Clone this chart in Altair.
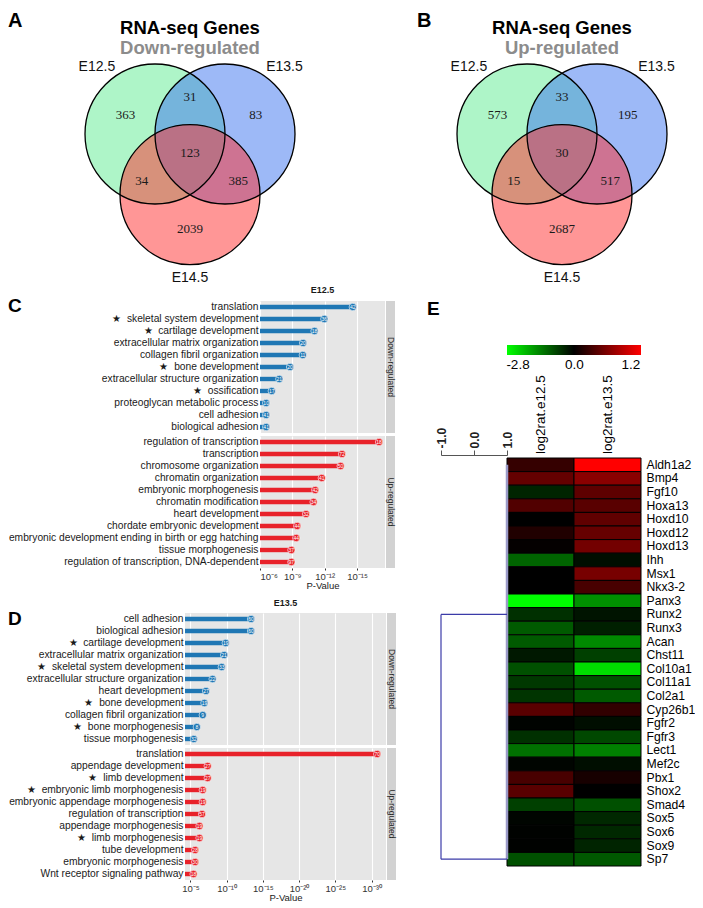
import altair as alt
import pandas as pd

FONT = "Liberation Sans"

# ---------------- Panels A / B : Venn diagrams ----------------
venn_sets = ["E12.5", "E13.5", "E14.5"]
venn_colors = ["#5deb91", "#3b73ef", "#ff2e2e"]
venn_regions = ["E12.5 only", "E12.5&E13.5", "E13.5 only", "all", "E12.5&E14.5", "E13.5&E14.5", "E14.5 only"]
down_counts = [363, 31, 83, 123, 34, 385, 2039]
up_counts = [573, 33, 195, 30, 15, 517, 2687]

# Venn geometry in circle-radius units
circle_cx = [-0.5, 0.5, 0.0]
circle_cy = [0.0, 0.0, -0.866]
region_x = [-0.92, 0.0, 0.94, 0.0, -0.69, 0.69, 0.0]
region_y = [0.27, 0.53, 0.27, -0.27, -0.67, -0.67, -1.35]
setlab_x = [-1.33, 1.35, 0.0]
setlab_y = [0.96, 0.96, -2.06]
title_y = [1.514, 1.229]

# ---------------- Panels C / D : GO enrichment lollipops ----------------
c_down_terms = ["translation", "★\u00a0\u00a0skeletal system development", "★\u00a0\u00a0cartilage development",
                "extracellular matrix organization", "collagen fibril organization", "★\u00a0\u00a0bone development",
                "extracellular structure organization", "★\u00a0\u00a0ossification", "proteoglycan metabolic process",
                "cell adhesion", "biological adhesion"]
c_down_nlp = [14.61, 11.97, 11.06, 10.0, 9.97, 8.79, 7.79, 7.09, 6.57, 6.57, 6.57]
c_down_n = [42, 36, 18, 20, 11, 20, 21, 17, 10, 41, 41]

c_up_terms = ["regulation of transcription", "transcription", "chromosome organization", "chromatin organization",
              "embryonic morphogenesis", "chromatin modification", "heart development",
              "chordate embryonic development", "embryonic development ending in birth or egg hatching",
              "tissue morphogenesis", "regulation of transcription, DNA-dependent"]
c_up_nlp = [17.05, 13.61, 13.48, 11.73, 11.12, 10.97, 10.27, 9.45, 9.36, 8.91, 8.91]
c_up_n = [18, 72, 50, 41, 42, 34, 32, 44, 44, 37, 97]

d_down_terms = ["cell adhesion", "biological adhesion", "★\u00a0\u00a0cartilage development",
                "extracellular matrix organization", "★\u00a0\u00a0skeletal system development",
                "extracellular structure organization", "heart development", "★\u00a0\u00a0bone development",
                "collagen fibril organization", "★\u00a0\u00a0bone morphogenesis", "tissue morphogenesis"]
d_down_nlp = [13.37, 13.37, 9.87, 9.65, 9.32, 8.06, 7.15, 6.93, 6.70, 5.88, 5.47]
d_down_n = [60, 60, 19, 21, 33, 22, 27, 19, 9, 8, 32]

d_up_terms = ["translation", "appendage development", "★\u00a0\u00a0limb development",
              "★\u00a0\u00a0embryonic limb morphogenesis", "embryonic appendage morphogenesis",
              "regulation of transcription", "appendage morphogenesis", "★\u00a0\u00a0limb morphogenesis",
              "tube development", "embryonic morphogenesis", "Wnt receptor signaling pathway"]
d_up_nlp = [30.78, 7.38, 7.38, 6.70, 6.70, 6.60, 6.25, 6.25, 5.65, 5.65, 5.43]
d_up_n = [70, 27, 27, 19, 19, 57, 19, 19, 28, 30, 18]

c_ticks = [6, 9, 12, 15]
d_ticks = [5, 10, 15, 20, 25, 30]
c_domain = [6, 17.6]
d_domain = [4.25, 32.0]

# ---------------- Panel E : heatmap ----------------
genes = ["Aldh1a2", "Bmp4", "Fgf10", "Hoxa13", "Hoxd10", "Hoxd12", "Hoxd13", "Ihh", "Msx1", "Nkx3-2",
         "Panx3", "Runx2", "Runx3", "Acan", "Chst11", "Col10a1", "Col11a1", "Col2a1", "Cyp26b1", "Fgfr2",
         "Fgfr3", "Lect1", "Mef2c", "Pbx1", "Shox2", "Smad4", "Sox5", "Sox6", "Sox9", "Sp7"]
heat_cols = ["log2rat.e12.5", "log2rat.e13.5"]
e12 = [0.25, 0.47, -0.40, 0.38, 0.0, 0.15, 0.02, -1.10, 0.0, 0.0,
       -2.80, -0.53, -0.99, -0.99, -0.26, -0.88, -0.61, -0.57, 0.42, -0.03,
       -0.53, -1.23, -0.05, 0.34, 0.42, -0.70, -0.05, -0.02, -0.02, -0.88]
e13 = [1.20, 0.65, 0.44, 0.42, 0.45, 0.48, 0.54, -0.15, 0.56, 0.34,
       -1.58, -0.22, -0.35, -1.52, -0.70, -2.43, -0.88, -0.99, 0.23, -0.15,
       -0.79, -1.40, -0.15, 0.11, 0.0, -0.88, -0.44, -0.44, -0.40, -0.97]
color_domain = [-2.8, 0.0, 1.2]
color_range = ["#00ff00", "#000000", "#ff0000"]
cbar_labels = ["-2.8", "0.0", "1.2"]
dendro_ticks = [-1.0, 0.0, 1.0]
dendro_tick_labels = ["-1.0", "0.0", "1.0"]
dendro_top = ["Runx2"]
dendro_bottom = ["Sp7"]
dendro_height = [-1.0]

# ======================================================================
PX = 70
VX0, VY1, VH = -2.6, 1.8, 278


def venn(counts, subtitle, letter, width, letter_x):
    xs = alt.Scale(domain=[VX0, VX0 + width / PX], nice=False, zero=False)
    ys = alt.Scale(domain=[VY1 - VH / PX, VY1], nice=False, zero=False)
    circ = pd.DataFrame({"set": venn_sets, "cx": circle_cx, "cy": circle_cy, "k": [0, 1, 2]})
    X = alt.X("cx:Q", scale=xs, axis=None)
    Y = alt.Y("cy:Q", scale=ys, axis=None)
    fills = alt.Chart(circ).mark_circle(size=(2 * PX) ** 2, opacity=0.5).encode(
        x=X, y=Y,
        color=alt.Color("set:N", scale=alt.Scale(domain=venn_sets, range=venn_colors), legend=None),
        order=alt.Order("k:Q"))
    rings = alt.Chart(circ).mark_point(shape="circle", filled=False, size=(2 * PX) ** 2,
                                       color="black", strokeWidth=1.3, opacity=1).encode(x=X, y=Y)
    reg = pd.DataFrame({"region": venn_regions, "n": counts, "x": region_x, "y": region_y})
    nums = alt.Chart(reg).mark_text(font="Liberation Serif", fontSize=13, color="#1a1a1a").encode(
        x=alt.X("x:Q", scale=xs, axis=None), y=alt.Y("y:Q", scale=ys, axis=None), text="n:Q")
    sl = pd.DataFrame({"s": venn_sets, "x": setlab_x, "y": setlab_y})
    setl = alt.Chart(sl).mark_text(fontSize=14, color="#111").encode(
        x=alt.X("x:Q", scale=xs, axis=None), y=alt.Y("y:Q", scale=ys, axis=None), text="s:N")
    tt = pd.DataFrame({"t": ["RNA-seq Genes", subtitle], "x": [0, 0], "y": title_y,
                       "c": ["#000000", "#8c8c8c"]})
    titles = alt.Chart(tt).mark_text(fontSize=18.5, fontWeight="bold").encode(
        x=alt.X("x:Q", scale=xs, axis=None), y=alt.Y("y:Q", scale=ys, axis=None), text="t:N",
        color=alt.Color("c:N", scale=None))
    let = alt.Chart(pd.DataFrame({"t": [letter]})).mark_text(
        fontSize=20, fontWeight="bold", align="left", baseline="middle", color="black").encode(
        x=alt.value(letter_x), y=alt.value(13), text="t:N")
    return alt.layer(fills, rings, nums, setl, titles, let).properties(width=width, height=VH)


SUP = str.maketrans("0123456789-", "⁰¹²³⁴⁵⁶⁷⁸⁹⁻")


def pow_expr(ticks):
    parts = " : ".join(f"datum.value == {k} ? '10{('-' + str(k)).translate(SUP)}'" for k in ticks)
    return parts + " : ''"


ROW = 12.0
LABEL_FS = 10.25


def lolli(terms, vals, counts, color, domain, ticks, width, extent, strip,
          title=None, letter=None, bottom_axis=False):
    """Label area (extent px) is part of the view so that panels line up from the left page edge."""
    h = len(terms) * ROW
    total = extent + width
    df = pd.DataFrame({"term": terms, "v": vals, "n": [str(c) for c in counts]})
    xs = alt.Scale(domain=domain, range=[extent, total], nice=False, zero=False)
    if bottom_axis:
        xax = alt.Axis(values=ticks, labelExpr=pow_expr(ticks), title="P-Value", titleFontSize=9.5,
                       titleFontWeight="normal", titleColor="#1a1a1a", titlePadding=0,
                       titleX=extent + width / 2,
                       labelFontSize=9.5, labelColor="#333333", labelPadding=1, grid=True,
                       gridColor="white", gridWidth=1.1, domain=False, tickSize=2, tickColor="#333333")
    else:
        xax = alt.Axis(values=ticks, labels=False, ticks=False, domain=False, grid=True,
                       gridColor="white", gridWidth=1.1, title=None)
    yax = alt.Axis(title=None, ticks=False, domain=False, labelFontSize=LABEL_FS, labelColor="#1a1a1a",
                   labelPadding=2, labelLimit=0, offset=-extent, zindex=1, grid=False)
    Y = alt.Y("term:N", sort=terms, scale=alt.Scale(domain=terms, paddingInner=0, paddingOuter=0), axis=yax)
    X = alt.X("v:Q", scale=xs, axis=xax)
    base = alt.Chart(df)
    white = alt.Chart(pd.DataFrame({"s": [strip]})).mark_rect(color="white").encode(
        x=alt.value(0), x2=alt.value(extent), y=alt.value(0), y2=alt.value(h))
    bars = base.mark_bar(size=4.4, color=color, clip=True).encode(x=X, x2=alt.datum(domain[0]), y=Y)
    dots = base.mark_circle(size=55, color=color, opacity=1, stroke="white", strokeWidth=0.6).encode(x=X, y=Y)
    nums = base.mark_text(fontSize=5, color="white").encode(x=X, y=Y, text="n:N")
    sdf = pd.DataFrame({"s": [strip]})
    srect = alt.Chart(sdf).mark_rect(color="#d2d2d2").encode(
        x=alt.value(total + 1), x2=alt.value(total + 10), y=alt.value(0), y2=alt.value(h))
    stext = alt.Chart(sdf).mark_text(angle=90, fontSize=8.5, color="#2a2a2a").encode(
        x=alt.value(total + 5.5), y=alt.value(h / 2), text="s:N")
    layers = [white, bars, dots, nums, srect, stext]
    if letter is not None:
        lt, ly = letter
        layers.append(alt.Chart(pd.DataFrame({"t": [lt]})).mark_text(
            fontSize=19, fontWeight="bold", align="left", baseline="top", color="black").encode(
            x=alt.value(0), y=alt.value(ly), text="t:N"))
    ch = alt.layer(*layers).properties(width=total, height=h,
                                       view=alt.ViewBackground(fill="#e6e6e6", strokeWidth=0))
    if title:
        ch = ch.properties(title=alt.TitleParams(title, fontSize=9, fontWeight="bold", anchor="middle",
                                                 frame="group", offset=2, color="#1a1a1a", dx=extent / 2))
    return ch


BLUE = "#1f77b4"
RED = "#e8222a"
CW, CE = 125, 252
DW, DE = 201, 177

c_down = lolli(c_down_terms, c_down_nlp, c_down_n, BLUE, c_domain, c_ticks, CW, CE, "Down-regulated",
               title="E12.5", letter=("C", -4))
c_up = lolli(c_up_terms, c_up_nlp, c_up_n, RED, c_domain, c_ticks, CW, CE, "Up-regulated", bottom_axis=True)
d_down = lolli(d_down_terms, d_down_nlp, d_down_n, BLUE, d_domain, d_ticks, DW, DE, "Down-regulated",
               title="E13.5", letter=("D", -3))
d_up = lolli(d_up_terms, d_up_nlp, d_up_n, RED, d_domain, d_ticks, DW, DE, "Up-regulated", bottom_axis=True)

# ---------------- heatmap panel ----------------
E_TOP = 157          # heatmap top inside the panel view
HW_D, HW = 66, 200
HH = len(genes) * 13.6
heat_df = pd.DataFrame({
    "gene": genes * 2,
    "col": [heat_cols[0]] * len(genes) + [heat_cols[1]] * len(genes),
    "val": e12 + e13,
})
ys = alt.Scale(domain=genes, range=[E_TOP, E_TOP + HH], paddingInner=0, paddingOuter=0)
hx = alt.Scale(domain=heat_cols, range=[HW_D, HW], paddingInner=0, paddingOuter=0)
dx = alt.Scale(domain=[-1, 1], range=[0, HW_D], nice=False, zero=False)
gene_axis = alt.Axis(orient="right", title=None, ticks=False, domain=False, labelFontSize=12.2,
                     labelPadding=5, labelColor="black")
GY = alt.Y("gene:N", scale=ys, axis=gene_axis)

heat = alt.Chart(heat_df).mark_rect(stroke="black", strokeWidth=1).encode(
    x=alt.X("col:N", scale=hx, axis=None),
    y=GY,
    color=alt.Color("val:Q", scale=alt.Scale(domain=color_domain, range=color_range, interpolate="rgb"),
                    legend=None))

collab = alt.Chart(pd.DataFrame({"col": heat_cols})).mark_text(
    angle=270, align="left", baseline="middle", fontSize=13.5, color="black").encode(
    x=alt.X("col:N", scale=hx, axis=None), y=alt.value(E_TOP - 4), text="col:N")

dendro_axis = alt.Axis(orient="top", values=dendro_ticks, offset=-(E_TOP - 3), labelAngle=-90,
                       labelFontSize=12, labelFontWeight="bold", labelColor="#222222", tickSize=5,
                       tickColor="#555555", domainColor="#555555", grid=False, title=None, labelPadding=2,
                       labelExpr=" : ".join(f"datum.value == {v} ? '{s}'" for v, s in
                                             zip(dendro_ticks, dendro_tick_labels)) + " : ''")
hl_df = pd.DataFrame({"gene": dendro_top + dendro_bottom, "h": dendro_height * 2})
hlinks = alt.Chart(hl_df).mark_rule(color="#3b3ba8", strokeWidth=1.2).encode(
    x=alt.X("h:Q", scale=dx, axis=dendro_axis), x2=alt.datum(1), y=GY)
vl_df = pd.DataFrame({"gene": dendro_top, "gene2": dendro_bottom, "h": dendro_height})
vlink = alt.Chart(vl_df).mark_rule(color="#3b3ba8", strokeWidth=1.2).encode(
    x=alt.X("h:Q", scale=dx, axis=None), y=GY, y2="gene2:N")
leaf_df = pd.DataFrame({"gene": [genes[0]], "gene2": [genes[-1]], "h": [1.0]})
leaf = alt.Chart(leaf_df).mark_rule(color="#9a9ac8", strokeWidth=2.5).encode(
    x=alt.X("h:Q", scale=dx, axis=None), y=GY, y2="gene2:N")

one = pd.DataFrame({"t": ["E"]})
cbar = alt.Chart(one).mark_rect(fill=alt.Gradient(
    gradient="linear",
    stops=[alt.GradientStop(color=color_range[0], offset=0),
           alt.GradientStop(color=color_range[1], offset=0.5),
           alt.GradientStop(color=color_range[2], offset=1)],
    x1=0, x2=1, y1=0, y2=0)).encode(
    x=alt.value(HW_D), x2=alt.value(HW), y=alt.value(E_TOP - 113), y2=alt.value(E_TOP - 103))
cbar_text = alt.Chart(pd.DataFrame({"lab": cbar_labels})).mark_text(fontSize=13.5, color="black").encode(
    x=alt.X("lab:N", scale=alt.Scale(type="point", domain=cbar_labels, range=[HW_D + 11, HW - 10],
                                     padding=0), axis=None),
    y=alt.value(E_TOP - 93), text="lab:N")
eletter = alt.Chart(one).mark_text(fontSize=19, fontWeight="bold", align="left", baseline="middle",
                                   color="black").encode(x=alt.value(-14), y=alt.value(E_TOP - 149), text="t:N")

e_chart = alt.layer(heat, collab, leaf, vlink, hlinks, cbar, cbar_text, eletter).resolve_scale(
    x="independent").properties(width=HW, height=E_TOP + HH)

# ---------------- assemble ----------------
top = alt.hconcat(venn(down_counts, "Down-regulated", "A", 372, 0),
                  venn(up_counts, "Up-regulated", "B", 315, 37), spacing=0)
c_grp = alt.vconcat(c_down, c_up, spacing=3)
d_grp = alt.vconcat(d_down, d_up, spacing=3)
cd = alt.vconcat(c_grp, d_grp, spacing=9)
bottom = alt.hconcat(cd, e_chart, spacing=31)
chart = alt.vconcat(top, bottom, spacing=0).properties(padding=0).configure(
    font=FONT).configure_view(strokeWidth=0)

chart.save("out.html", embed_options={"renderer": "svg", "actions": False})
